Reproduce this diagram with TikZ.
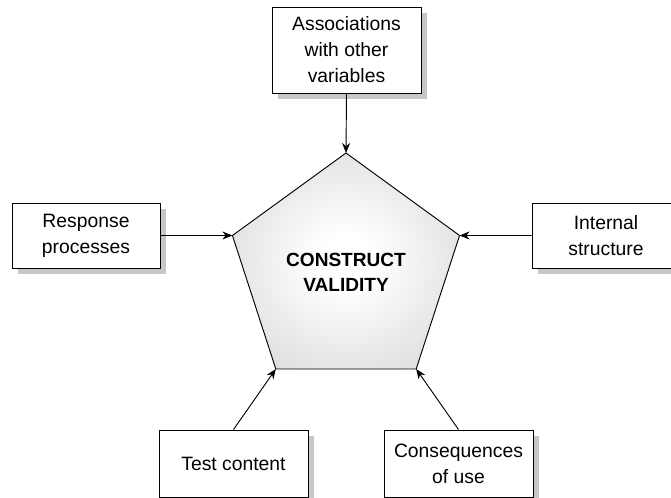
\documentclass[tikz,border=0pt]{standalone}
\usepackage{fontspec}
\setmainfont{Liberation Sans}
\usetikzlibrary{shapes.geometric, arrows.meta, shadows}
\pgfdeclareradialshading{pentfill}{\pgfpointorigin}{color(0bp)=(white); color(6bp)=(white); color(50bp)=(black!24); color(75bp)=(black!24)}

\begin{document}
\begin{tikzpicture}[x=0.75pt, y=-0.75pt,
  facet/.style={draw, fill=white, line width=0.7pt, align=center, inner sep=0pt,
    font=\fontsize{14.5}{19.5}\selectfont,
    drop shadow={shadow xshift=4.5pt, shadow yshift=-4.5pt, fill=black!22, opacity=1}},
  link/.style={-{Stealth[length=7.5pt, width=6pt]}, line width=0.7pt}]
\useasboundingbox (0,0) rectangle (671,498);
\clip (0,0) rectangle (671,498);
% Pentagon
\node[regular polygon, regular polygon sides=5, minimum size=179.1pt,
  inner sep=0pt, outer sep=0pt, draw, line width=0.7pt, shading=pentfill,
  align=center, font=\fontsize{14.3}{18.75}\selectfont\bfseries]
  (valid) at (346,272.4) {CONSTRUCT\\VALIDITY};
% Sources of evidence
\node[facet, minimum width=111.75pt, minimum height=64.5pt]
  (assoc) at (346.5,50) {Associations\\with other\\variables};
\node[facet, minimum width=111pt, minimum height=48.75pt]
  (resp) at (86,235.5) {Response\\processes};
\node[facet, minimum width=111pt, minimum height=48.75pt]
  (intern) at (606,235.5) {Internal\\structure};
\node[facet, minimum width=111.75pt, minimum height=50.25pt]
  (content) at (233.5,463.5) {Test content};
\node[facet, minimum width=111.75pt, minimum height=50.25pt]
  (conseq) at (458.5,463.5) {Consequences\\of use};
% Arrows
\draw[link] (assoc.south) -- (valid.corner 1);
\draw[link] (resp.east) -- (valid.corner 2);
\draw[link] (content.north) -- (valid.corner 3);
\draw[link] (conseq.north) -- (valid.corner 4);
\draw[link] (intern.west) -- (valid.corner 5);
\end{tikzpicture}
\end{document}
